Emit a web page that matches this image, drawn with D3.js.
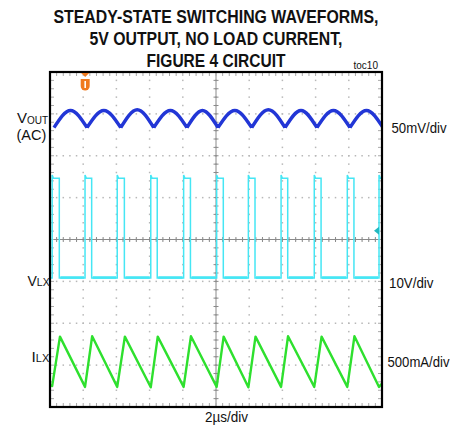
<!DOCTYPE html>
<html>
<head>
<meta charset="utf-8">
<script src="https://cdn.jsdelivr.net/npm/d3@7"></script>
<style>
  body { margin: 0; background: #fff; }
  text { font-family: "Liberation Sans", Arial, sans-serif; fill: #111; }
</style>
</head>
<body>
<script>
// scope settings
const timePerDiv = 2;          // µs/div
const xDivs = 10, yDivs = 8;

const titleLines = ["STEADY-STATE SWITCHING WAVEFORMS,", "5V OUTPUT, NO LOAD CURRENT,", "FIGURE 4 CIRCUIT"];

// VLX edges (µs), 10V/div
const vlxRise = [0.13, 2.11, 4.05, 6.07, 8.05, 10.04, 11.95, 13.92, 15.92, 17.91, 19.82];
const vlxFall = [0.56, 2.51, 4.48, 6.46, 8.46, 10.44, 12.35, 14.32, 16.33, 18.31];
const vlxHigh = 23.8, vlxPeak = 24.6, vlxLow = 0;

// VOUT ripple (AC), 50mV/div: cusps (µs) and arch tops (mV)
const voutTrough = [0.24, 2.23, 4.26, 6.25, 8.25, 10.12, 12.15, 14.16, 16.08, 18.07, 20.06];
const voutPeak = [10, 10, 11, 10, 10, 10, 11, 10, 10, 10];
const voutLow = -10.5;

// ILX, 500mA/div: [µs, mA]
const ilxPts = [[0, -280], [0.13, -290], [0.6, 300], [2.11, -300], [2.54, 305], [4.05, -300], [4.51, 300],
  [6.07, -305], [6.49, 300], [8.05, -300], [8.49, 305], [10.04, -300], [10.46, 300], [11.95, -305],
  [12.38, 300], [13.92, -300], [14.34, 305], [15.92, -300], [16.36, 300], [17.91, -300], [18.34, 305],
  [19.82, -300], [20, -260]];

const svg = d3.select("body").append("svg")
  .attr("width", 454).attr("height", 430);

const plot = { left: 50, right: 382, top: 72, bottom: 407 };

const x = d3.scaleLinear().domain([0, xDivs * timePerDiv]).range([plot.left, plot.right]);
const yDiv = d3.scaleLinear().domain([0, yDivs]).range([plot.top, plot.bottom]);

// each channel: zero position (div from top) and units per div
const yVout = v => yDiv(1.12 - v / 50);
const yVlx = v => yDiv(4.92 - v / 10);
const yIlx = v => yDiv(6.92 - v / 500);

// title
svg.selectAll(".title").data(titleLines).join("text")
  .attr("x", 216).attr("y", (d, i) => 22.5 + i * 22)
  .attr("text-anchor", "middle")
  .attr("font-size", 18).attr("font-weight", "bold")
  .attr("textLength", (d, i) => [325, 253, 139][i])
  .attr("lengthAdjust", "spacingAndGlyphs")
  .text(d => d);

svg.append("text").attr("x", 378).attr("y", 68.5).attr("text-anchor", "end")
  .attr("font-size", 10).text("toc10");

// grid
const grid = svg.append("g");
const minorX = d3.range(0, xDivs * 5 + 1).map(i => i / 5 * timePerDiv);
const minorY = d3.range(0, yDivs * 5 + 1).map(i => i / 5);
const majorX = d3.range(1, xDivs).map(i => i * timePerDiv);
const majorY = d3.range(1, yDivs);

// dotted major lines
majorX.forEach(t => {
  grid.selectAll(null).data(minorY).join("rect")
    .attr("x", x(t) - 0.75).attr("y", d => yDiv(d) - 0.75)
    .attr("width", 1.5).attr("height", 1.5).attr("fill", "#b8b8b8");
});
majorY.forEach(dv => {
  grid.selectAll(null).data(minorX).join("rect")
    .attr("x", d => x(d) - 0.75).attr("y", yDiv(dv) - 0.75)
    .attr("width", 1.5).attr("height", 1.5).attr("fill", "#b8b8b8");
});

// center cross
const cx = x(xDivs * timePerDiv / 2), cy = yDiv(yDivs / 2);
grid.append("line").attr("x1", plot.left).attr("x2", plot.right).attr("y1", cy).attr("y2", cy)
  .attr("stroke", "#8a8a8a").attr("stroke-width", 1);
grid.append("line").attr("x1", cx).attr("x2", cx).attr("y1", plot.top).attr("y2", plot.bottom)
  .attr("stroke", "#8a8a8a").attr("stroke-width", 1);
grid.selectAll(null).data(minorX).join("line")
  .attr("x1", d => x(d)).attr("x2", d => x(d)).attr("y1", cy - 2.5).attr("y2", cy + 2.5)
  .attr("stroke", "#8a8a8a");
grid.selectAll(null).data(minorY).join("line")
  .attr("x1", cx - 2.5).attr("x2", cx + 2.5).attr("y1", d => yDiv(d)).attr("y2", d => yDiv(d))
  .attr("stroke", "#8a8a8a");

// border minor ticks
grid.selectAll(null).data(minorX).join("line")
  .attr("x1", d => x(d)).attr("x2", d => x(d)).attr("y1", plot.top).attr("y2", plot.top + 4)
  .attr("stroke", "#aaa");
grid.selectAll(null).data(minorX).join("line")
  .attr("x1", d => x(d)).attr("x2", d => x(d)).attr("y1", plot.bottom).attr("y2", plot.bottom - 4)
  .attr("stroke", "#aaa");
grid.selectAll(null).data(minorY).join("line")
  .attr("x1", plot.left).attr("x2", plot.left + 4).attr("y1", d => yDiv(d)).attr("y2", d => yDiv(d))
  .attr("stroke", "#aaa");
grid.selectAll(null).data(minorY).join("line")
  .attr("x1", plot.right).attr("x2", plot.right - 4).attr("y1", d => yDiv(d)).attr("y2", d => yDiv(d))
  .attr("stroke", "#aaa");

// clip traces to screen
svg.append("clipPath").attr("id", "scr").append("rect")
  .attr("x", plot.left).attr("y", plot.top)
  .attr("width", plot.right - plot.left).attr("height", plot.bottom - plot.top);
const traces = svg.append("g").attr("clip-path", "url(#scr)");

// VOUT arches
const archLine = d3.line().x(d => x(d[0])).y(d => yVout(d[1])).curve(d3.curveNatural);
let voutD = "";
voutPeak.forEach((p, i) => {
  const t0 = voutTrough[i], t1 = voutTrough[i + 1];
  voutD += archLine([[t0, voutLow], [(t0 + t1) / 2, p], [t1, voutLow]]);
});
traces.append("path").attr("d", voutD)
  .attr("fill", "none").attr("stroke", "#2236d6").attr("stroke-width", 3.4)
  .attr("stroke-linejoin", "round");

// VLX
const vlxPts = [[0, vlxLow]];
vlxRise.forEach((r, i) => {
  vlxPts.push([r, vlxLow], [r, vlxPeak], [r + 0.08, vlxHigh]);
  if (i < vlxFall.length) vlxPts.push([vlxFall[i], vlxHigh], [vlxFall[i], vlxLow]);
  else vlxPts.push([xDivs * timePerDiv, vlxHigh]);
});
traces.append("path")
  .attr("d", d3.line().x(d => x(d[0])).y(d => yVlx(d[1]))(vlxPts))
  .attr("fill", "none").attr("stroke", "#45e6f4").attr("stroke-width", 1.5);
// low level looks thicker (noise)
vlxFall.forEach((f, i) => {
  traces.append("line")
    .attr("x1", x(f) + 1).attr("x2", x(vlxRise[i + 1]) - 1)
    .attr("y1", yVlx(vlxLow) - 0.5).attr("y2", yVlx(vlxLow) - 0.5)
    .attr("stroke", "#45e6f4").attr("stroke-width", 2.6);
});

// ILX
traces.append("path")
  .attr("d", d3.line().x(d => x(d[0])).y(d => yIlx(d[1]))(ilxPts))
  .attr("fill", "none").attr("stroke", "#2ee02e").attr("stroke-width", 2.4)
  .attr("stroke-linejoin", "round");

// frame
svg.append("rect").attr("x", plot.left).attr("y", plot.top)
  .attr("width", plot.right - plot.left).attr("height", plot.bottom - plot.top)
  .attr("fill", "none").attr("stroke", "#000").attr("stroke-width", 2.2);

// trigger position marker (orange)
const tx = x(2.12);
svg.append("path").attr("d", `M${tx - 4},${plot.top + 1}L${tx + 4},${plot.top + 1}L${tx},${plot.top + 5}Z`)
  .attr("fill", "#f07a1e");
svg.append("path")
  .attr("d", `M${tx - 4.5},${plot.top + 7}L${tx - 4.5},${plot.top + 14}A4.5,4.5 0 0 0 ${tx + 4.5},${plot.top + 14}L${tx + 4.5},${plot.top + 7}Z`)
  .attr("fill", "#f07a1e");
svg.append("line").attr("x1", tx).attr("x2", tx).attr("y1", plot.top + 9).attr("y2", plot.top + 16)
  .attr("stroke", "#fff").attr("stroke-width", 1.6);

// trigger level marker (cyan)
const ty = yVlx(11.3);
svg.append("path").attr("d", `M${plot.right - 8},${ty}L${plot.right - 3},${ty - 4}L${plot.right - 3},${ty + 4}Z`)
  .attr("fill", "#22b8c0");

// channel labels
const vout = svg.append("text").attr("x", 17).attr("y", 122.5).attr("font-size", 15);
vout.append("tspan").text("V");
vout.append("tspan").attr("font-size", 10).attr("dy", 1.2).text("OUT");
svg.append("text").attr("x", 16.5).attr("y", 139.5).attr("font-size", 14.5).text("(AC)");

const vlx = svg.append("text").attr("x", 27.5).attr("y", 285.5).attr("font-size", 14);
vlx.append("tspan").text("V");
vlx.append("tspan").attr("font-size", 10.5).text("LX");

const ilx = svg.append("text").attr("x", 31.5).attr("y", 362).attr("font-size", 15.5);
ilx.append("tspan").text("I");
ilx.append("tspan").attr("font-size", 11).text("LX");

svg.append("text").attr("x", 391.5).attr("y", 132.7).attr("font-size", 14.5)
  .attr("textLength", 55).attr("lengthAdjust", "spacingAndGlyphs").text("50mV/div");
svg.append("text").attr("x", 389).attr("y", 288).attr("font-size", 14.5)
  .attr("textLength", 44.5).attr("lengthAdjust", "spacingAndGlyphs").text("10V/div");
svg.append("text").attr("x", 387.5).attr("y", 367).attr("font-size", 14)
  .attr("textLength", 62).attr("lengthAdjust", "spacingAndGlyphs").text("500mA/div");
svg.append("text").attr("x", 205).attr("y", 422).attr("font-size", 14.5)
  .attr("textLength", 43).attr("lengthAdjust", "spacingAndGlyphs").text("2µs/div");
</script>
</body>
</html>
